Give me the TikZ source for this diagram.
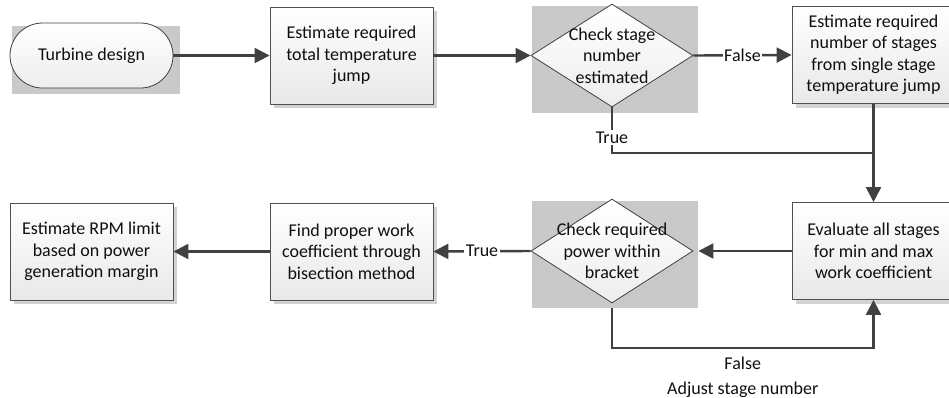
\documentclass[tikz,border=0pt]{standalone}
\usepackage{fontspec}
\setmainfont{Carlito}
\usetikzlibrary{shapes.geometric,shadows,arrows.meta,backgrounds,calc}
\definecolor{wire}{RGB}{64,64,64}
\definecolor{edge}{RGB}{80,80,80}
\definecolor{backdrop}{RGB}{201,201,201}
\definecolor{shade}{RGB}{210,210,210}
\definecolor{ink}{RGB}{15,15,15}
\tikzset{
  every node/.style={font=\fontsize{18}{21.5}\selectfont, text=ink},
  procbox/.style={draw=edge, line width=0.9pt, rectangle,
    minimum width=163pt, minimum height=97pt, inner sep=2pt,
    align=center, top color=white, bottom color=black!9,
    drop shadow={shadow xshift=4pt, shadow yshift=-4pt, fill=shade, opacity=1}},
  startbox/.style={draw=wire, line width=0.8pt, rectangle, rounded corners=32.5pt,
    minimum width=163pt, minimum height=65pt, inner sep=0pt,
    top color=white, bottom color=black!7},
  decision/.style={draw=wire, line width=0.8pt, diamond, inner sep=0pt,
    minimum width=162pt, minimum height=103pt,
    top color=white, bottom color=black!7},
  flow/.style={draw=wire, line width=2.4pt, -{Triangle[length=15pt,width=15pt]}},
  plain/.style={draw=wire, line width=2.4pt},
  tag/.style={fill=white, inner sep=1.5pt},
}
\begin{document}
\begin{tikzpicture}[x=1pt,y=-1pt]
\useasboundingbox (0,0) rectangle (949,397);
\clip (0,0) rectangle (949,397);

% grey backdrops behind the terminal and the decisions
\fill[backdrop] (12,26) rectangle (180,94);
\fill[backdrop] (532,6) rectangle (698,113);
\fill[backdrop] (532,201) rectangle (698,308);

% shapes
\node[startbox] (start) at (91.5,55.5) {Turbine design};
\node[procbox] (total) at (351.5,55.5) {Estimate required\\total temperature\\jump};
\node[decision] (chk1) at (612,55.5) {};
\node (chk1t) at (612,55.5) [align=center] {Check stage\\number\\estimated};
\node[procbox] (stages) at (873.5,55) {Estimate required\\number of stages\\from single stage\\temperature jump};
\node[procbox] (evalall) at (873.5,251) {Evaluate all stages\\for min and max\\work coefficient};
\node[decision, minimum height=104pt] (chk2) at (612,251) {};
\node (chk2t) at (612,251) [align=center] {Check required\\power within\\bracket};
\node[procbox] (bisect) at (351.5,251.5) {Find proper work\\coefficient through\\bisection method};
\node[procbox] (rpm) at (91.5,251.5) {Estimate RPM limit\\based on power\\generation margin};

% faint shadow lines along the lower right edges of the decisions
\draw[black!30, dotted, line width=0.6pt] ([shift={(3,2)}]chk1.east) -- ([shift={(3,2)}]chk1.south);
\draw[black!30, dotted, line width=0.6pt] ([shift={(3,2)}]chk2.east) -- ([shift={(3,2)}]chk2.south);

\coordinate (join) at (873.5,153);
\coordinate (loop) at (873.5,348);

% connectors
\draw[flow] (start.east) -- (total.west);
\draw[flow] (total.east) -- (chk1.west);
\draw[flow] (chk1.east) -- node[tag] {False} (stages.west);
\draw[plain] (chk1.south) -- node[tag, pos=0.66] {True} (chk1.south |- join) -- (join);
\draw[flow] (stages.south) -- (evalall.north);
\draw[flow, shorten >=5pt] (evalall.west) -- (chk2.east);
\draw[flow] (chk2.west) -- node[tag] {True} (bisect.east);
\draw[flow] (bisect.west) -- (rpm.east);
\draw[flow] ([yshift=-5pt]chk2.south) -- (chk2.south |- loop)
  -- node[below=8pt, align=center, inner sep=0pt] {False\\[3pt]Adjust stage number} (loop)
  -- (evalall.south);
\end{tikzpicture}
\end{document}
